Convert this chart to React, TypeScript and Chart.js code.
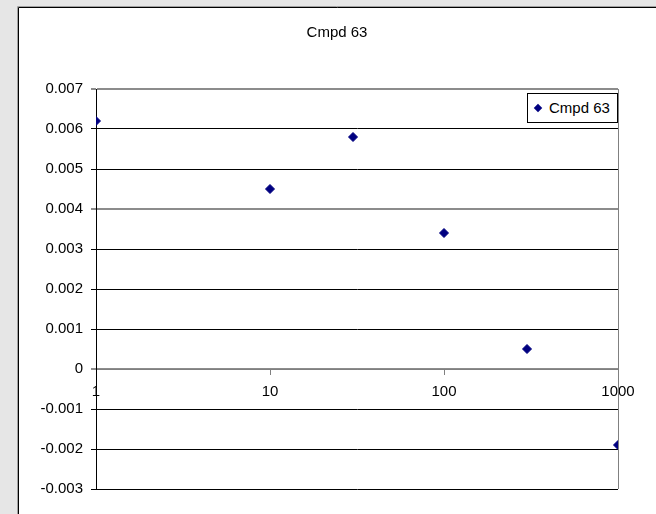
import React, { useEffect, useRef } from 'react';
import { Chart, registerables } from 'chart.js';

Chart.register(...registerables);

// ---- data ----
const chartTitle = 'Cmpd 63';
const seriesName = 'Cmpd 63';
const concentrations = [1, 10, 30, 100, 300, 1000];
const responses = [0.0062, 0.0045, 0.0058, 0.0034, 0.0005, -0.0019];
const xTickValues = [1, 10, 100, 1000];
const yMin = -0.003;
const yMax = 0.007;
const yStep = 0.001;
const grayGridValues = [0.007, 0.004, 0];

const FONT = "'Liberation Sans', Arial, sans-serif";
const MARKER = '#000080';

export default function App() {
  const ref = useRef<HTMLCanvasElement>(null);

  useEffect(() => {
    const canvas = ref.current;
    if (!canvas) return;

    const background = {
      id: 'excelBackground',
      beforeDraw(chart: any) {
        const { ctx, width, height } = chart;
        ctx.save();
        ctx.fillStyle = '#e6e6e6';
        ctx.fillRect(0, 0, width, height);
        ctx.fillStyle = '#ffffff';
        ctx.fillRect(18, 7, width - 18, height - 7);
        ctx.lineWidth = 1;
        ctx.strokeStyle = '#a0a0a0';
        ctx.beginPath();
        ctx.moveTo(17.5, height);
        ctx.lineTo(17.5, 6.5);
        ctx.lineTo(width, 6.5);
        ctx.stroke();
        ctx.strokeStyle = '#000000';
        ctx.beginPath();
        ctx.moveTo(18.5, height);
        ctx.lineTo(18.5, 7.5);
        ctx.lineTo(width, 7.5);
        ctx.stroke();
        ctx.restore();
      },
    };

    const plotFrame = {
      id: 'plotFrame',
      beforeDatasetsDraw(chart: any) {
        const { ctx, chartArea } = chart;
        ctx.save();
        ctx.strokeStyle = '#808080';
        ctx.lineWidth = 1;
        ctx.beginPath();
        ctx.moveTo(chartArea.right + 0.5, chartArea.top);
        ctx.lineTo(chartArea.right + 0.5, chartArea.bottom);
        ctx.stroke();
        ctx.restore();
      },
    };

    const isGray = (v: number) => grayGridValues.some((g) => Math.abs(g - v) < 1e-9);

    const chart = new Chart(canvas, {
      type: 'scatter',
      data: {
        datasets: [
          {
            label: seriesName,
            data: concentrations.map((x, i) => ({ x, y: responses[i] })),
            pointStyle: 'rectRot',
            pointRadius: 4.5,
            pointBorderWidth: 1,
            backgroundColor: MARKER,
            borderColor: MARKER,
            showLine: false,
          },
        ],
      },
      options: {
        responsive: false,
        animation: false,
        devicePixelRatio: 1,
        layout: { padding: { left: 18, right: 0, top: 0, bottom: 25 } },
        plugins: {
          legend: { display: false },
          tooltip: { enabled: false },
          title: {
            display: true,
            text: chartTitle,
            color: '#000',
            font: { family: FONT, size: 15, weight: 'normal', lineHeight: 1.2 },
            padding: { top: 24, bottom: 47 },
          },
        },
        scales: {
          x: {
            type: 'logarithmic',
            min: 1,
            max: 1000,
            position: { y: 0 } as any,
            afterBuildTicks: (s: any) => {
              s.ticks = xTickValues.map((v) => ({ value: v }));
            },
            ticks: {
              callback: (v: any) => String(v),
              color: '#000',
              font: { family: FONT, size: 15 },
              padding: 9,
              autoSkip: false,
              maxRotation: 0,
            },
            grid: { drawOnChartArea: false, drawTicks: true, tickLength: 5, color: '#808080' },
            border: { color: '#808080' },
          },
          y: {
            type: 'linear',
            position: 'left',
            min: yMin,
            max: yMax,
            ticks: {
              stepSize: yStep,
              color: '#000',
              font: { family: FONT, size: 15 },
              padding: 8,
              callback: (v: any) => {
                const n = Number(v);
                if (Math.abs(n) < 1e-12) return '0';
                return n.toFixed(3);
              },
            },
            grid: {
              color: (c: any) => (c.tick && isGray(c.tick.value) ? '#8c8c8c' : '#000000'),
              lineWidth: (c: any) => (c.tick && isGray(c.tick.value) ? 2 : 1),
              tickLength: 5,
            },
            border: { color: '#000' },
            afterFit: (s: any) => {
              s.width = 78;
            },
          },
          yPad: {
            type: 'linear',
            position: 'right',
            display: true,
            ticks: { display: false },
            grid: { display: false },
            border: { display: false },
            afterFit: (s: any) => {
              s.width = 38;
            },
          },
        },
      } as any,
      plugins: [background, plotFrame],
    });

    return () => chart.destroy();
  }, []);

  return (
    <div style={{ position: 'fixed', left: 0, top: 0, width: 656, height: 514 }}>
      <canvas ref={ref} width={656} height={514} style={{ position: 'absolute', left: 0, top: 0 }} />
      <div
        style={{
          position: 'absolute',
          left: 527,
          top: 93,
          width: 91,
          height: 30,
          boxSizing: 'border-box',
          border: '1px solid #000',
          background: '#fff',
          fontFamily: FONT,
          fontSize: 15,
          color: '#000',
        }}
      >
        <div
          style={{
            position: 'absolute',
            left: 7,
            top: 11,
            width: 6,
            height: 6,
            background: MARKER,
            transform: 'rotate(45deg)',
          }}
        />
        <span style={{ position: 'absolute', left: 21, top: 5, lineHeight: '18px', whiteSpace: 'nowrap' }}>
          {seriesName}
        </span>
      </div>
    </div>
  );
}
